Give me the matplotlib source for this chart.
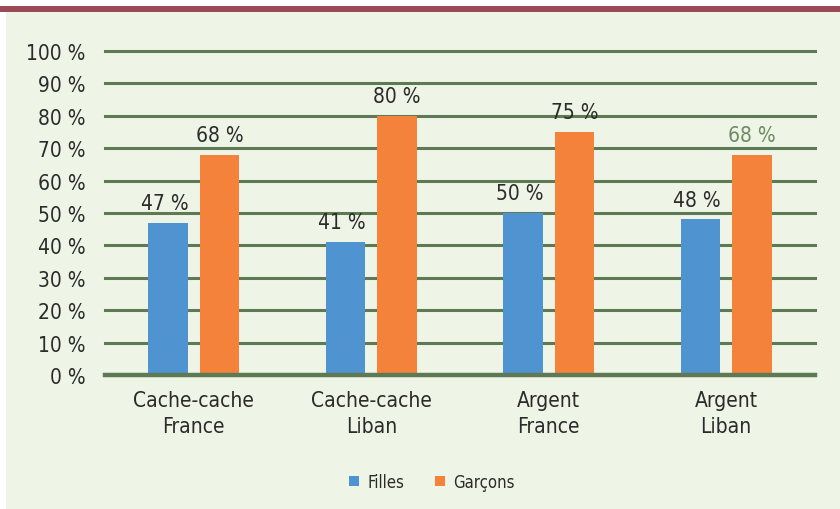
import numpy as np
import matplotlib.pyplot as plt
from matplotlib.patches import Rectangle

categories = ["Cache-cache\nFrance", "Cache-cache\nLiban", "Argent\nFrance", "Argent\nLiban"]
filles = [47, 41, 50, 48]
garcons = [68, 80, 75, 68]
yticks = [0, 10, 20, 30, 40, 50, 60, 70, 80, 90, 100]

bg = "#EEF4E6"
grid_col = "#5E7A55"
blue = "#4F94D0"
orange = "#F5823A"
txt = "#2B2B2B"
fk = dict(family="DejaVu Sans", stretch="condensed")

fig = plt.figure(figsize=(8.4, 5.1), dpi=100)
fig.patch.set_facecolor("white")
# background panel and top band
fig.patches.append(Rectangle((6/840, 0), 834/840, 497/510, transform=fig.transFigure,
                             facecolor=bg, edgecolor="none", zorder=-2))
fig.patches.append(Rectangle((0, 497/510), 1, 6/510, transform=fig.transFigure,
                             facecolor="#9A4A55", edgecolor="none", zorder=-1))

ax = fig.add_axes([105/840, 1 - 376/510, 710/840, 324/510])
ax.set_facecolor("none")
x = np.arange(len(categories))
w = 0.225
off = 0.145
ax.bar(x - off, filles, w, color=blue, zorder=3, label="Filles")
ax.bar(x + off, garcons, w, color=orange, zorder=3, label="Garçons")

for t in yticks:
    ax.axhline(t, color=grid_col, lw=3.2 if t == 0 else 2.2, zorder=4 if t == 0 else 2, clip_on=False)

ax.set_xlim(-0.5, 3.5)
ax.set_ylim(0, 100)
ax.set_yticks(yticks)
ax.set_yticklabels([f"{t} %" for t in yticks], fontsize=15, color=txt, **fk)
ax.set_xticks(x)
ax.set_xticklabels(categories, fontsize=15, color=txt, linespacing=1.35, **fk)
ax.tick_params(length=0, pad=14)
ax.tick_params(axis="x", pad=11)
for s in ax.spines.values():
    s.set_visible(False)

for i in range(len(categories)):
    ax.text(x[i] - off - 0.02, filles[i] + 3, f"{filles[i]} %", ha="center", va="bottom",
            fontsize=15, color=txt, **fk)
    c = "#6E8B62" if i == 3 else txt
    ax.text(x[i] + off, garcons[i] + 3, f"{garcons[i]} %", ha="center", va="bottom",
            fontsize=15, color=c, **fk)

leg = fig.legend(loc="center", bbox_to_anchor=(432/840, 1 - 483/510), ncol=2, frameon=False,
                 prop={"family": "DejaVu Sans", "stretch": "condensed", "size": 12},
                 handlelength=0.6, handleheight=0.6, columnspacing=1.8, handletextpad=0.5)
for t in leg.get_texts():
    t.set_color(txt)

fig.savefig("out.png", dpi=100, facecolor=fig.get_facecolor())
